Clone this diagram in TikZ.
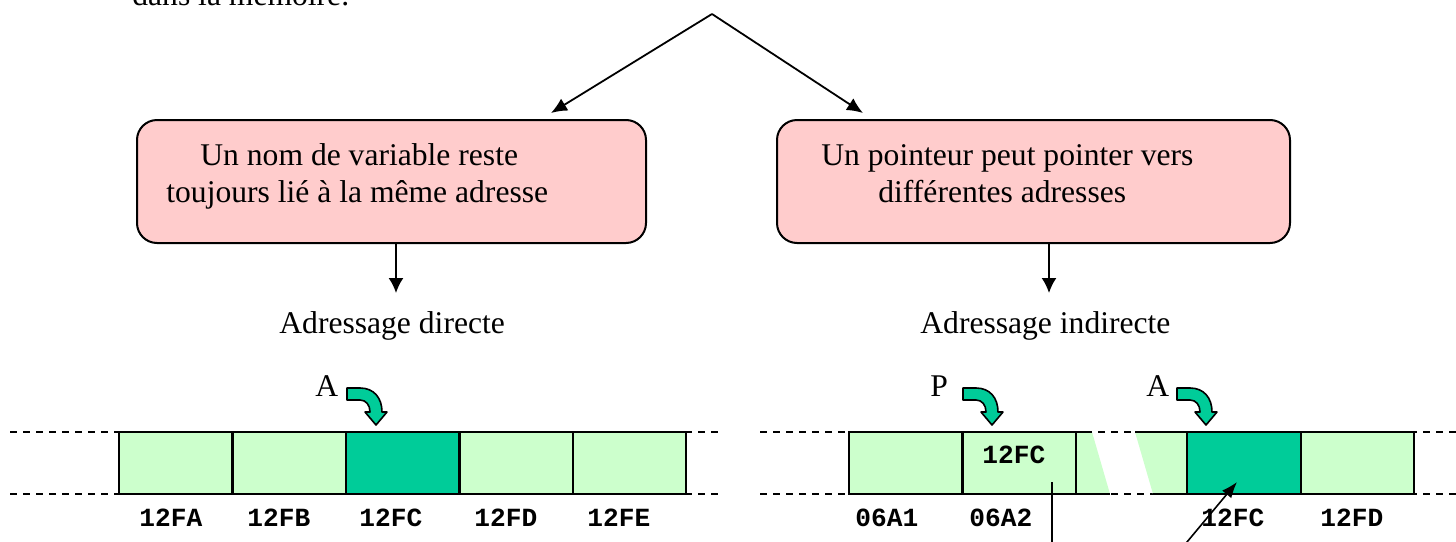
\documentclass[tikz,border=0pt]{standalone}
\usepackage{fontspec}
\setmainfont{Liberation Serif}
\newfontfamily\addrfont{Liberation Mono}
\usetikzlibrary{arrows.meta,calc}
\definecolor{pinkfill}{HTML}{FFCCCC}
\definecolor{lightgreen}{HTML}{CCFFCC}
\definecolor{seagreen}{HTML}{00CC99}
\newcommand\bentarrowat[1]{%
  \draw[bentarrow, shift={(#1)}] (-29,-37) -- (-16,-37)
    .. controls (-2,-37) and (6,-27) .. (6,-13) -- (11,-13) -- (0,0)
    -- (-11,-13) -- (-6,-13)
    .. controls (-6,-20) and (-10,-25) .. (-16,-25) -- (-29,-25) -- cycle;}
\begin{document}
\begin{tikzpicture}[x=0.5pt,y=-0.5pt,
  txt/.style={inner sep=0pt, anchor=base west, font=\fontsize{15.8}{16.5}\selectfont},
  addr/.style={inner sep=0pt, anchor=base west, font=\addrfont\bfseries\fontsize{13.1}{15}\selectfont},
  pbox/.style={draw, line width=1pt, fill=pinkfill, rounded corners=10pt, minimum height=61.5pt},
  conn/.style={line width=0.9pt, -{Latex[length=8pt,width=7pt]}},
  downarr/.style={line width=0.9pt, -{Latex[length=7.5pt,width=7.5pt]}},
  cellbox/.style={draw, line width=1pt, minimum width=56.7pt, minimum height=31pt, inner sep=0pt},
  dashline/.style={line width=1pt, dash pattern=on 3.5pt off 3pt},
  solidline/.style={line width=1pt},
  bentarrow/.style={draw, line width=0.8pt, fill=seagreen, line join=round},
  ptr/.style={line width=0.8pt},
  ptrarr/.style={line width=0.8pt, -{Latex[length=8pt,width=6pt]}}]
\useasboundingbox (0,0) rectangle (1456,541);

% top cut text
\node[txt] (toptext) at (132,5) {dans la mémoire.};

% top connectors
\coordinate (apex) at (712,14);
\coordinate (lt) at (551,113);
\coordinate (rt) at (863,113);
\draw[conn] (apex) -- (lt);
\draw[conn] (apex) -- (rt);

% boxes
\node[pbox, minimum width=254.5pt] (lbox) at (391.5,181.5) {};
\node[pbox, minimum width=256.5pt] (rbox) at (1033.5,181.5) {};
\node[txt] (l1) at (200,165) {Un nom de variable reste};
\node[txt] (l2) at (166,202) {toujours lié à la même adresse};
\node[txt] (r1) at (821,165) {Un pointeur peut pointer vers};
\node[txt] (r2) at (878,202) {différentes adresses};

% down arrows
\coordinate (ldt) at (396,293);
\coordinate (rdt) at (1049,293);
\draw[downarr] (lbox.south -| ldt) -- (ldt);
\draw[downarr] (rbox.south -| rdt) -- (rdt);
\node[txt] (ldir) at (279,333) {Adressage directe};
\node[txt] (rdir) at (920,333) {Adressage indirecte};

% ---------- left memory row ----------
\draw[dashline] (10,432) -- (119,432);
\draw[dashline] (10,494) -- (119,494);
\draw[dashline] (685,432) -- (720,432);
\draw[dashline] (685,494) -- (720,494);
\node[cellbox, fill=lightgreen] (c1) at (175.75,463) {};
\node[cellbox, fill=lightgreen] (c2) at (289.25,463) {};
\node[cellbox, fill=seagreen]   (c3) at (402.75,463) {};
\node[cellbox, fill=lightgreen] (c4) at (516.25,463) {};
\node[cellbox, fill=lightgreen] (c5) at (629.75,463) {};
\node[addr] (a1) at (139,526) {12FA};
\node[addr] (a2) at (247,526) {12FB};
\node[addr] (a3) at (359,526) {12FC};
\node[addr] (a4) at (474,526) {12FD};
\node[addr] (a5) at (587,526) {12FE};
\node[txt] (labA) at (315,396) {A};
\bentarrowat{376,425}

% ---------- right memory row ----------
\draw[dashline] (760,432) -- (1456,432);
\draw[dashline] (760,494) -- (1456,494);
\fill[lightgreen] (1076,432) -- (1092,432) -- (1110,494) -- (1076,494) -- cycle;
\fill[lightgreen] (1135,432) -- (1187,432) -- (1187,494) -- (1153,494) -- cycle;
\draw[solidline] (1076,432) -- (1092,432);
\draw[solidline] (1076,494) -- (1110,494);
\draw[solidline] (1135,432) -- (1187,432);
\draw[solidline] (1153,494) -- (1187,494);
\node[cellbox, fill=lightgreen] (d1) at (905.6,463) {};
\node[cellbox, fill=lightgreen] (d2) at (1019.25,463) {};
\node[cellbox, fill=seagreen]   (d3) at (1244,463) {};
\node[cellbox, fill=lightgreen] (d4) at (1357.5,463) {};
\node[addr] (inval) at (982,463) {12FC};
\node[addr] (b1) at (855,526) {06A1};
\node[addr] (b2) at (969,526) {06A2};
\node[addr] (b3) at (1201,526) {12FC};
\node[addr] (b4) at (1320,526) {12FD};
\node[txt] (labP) at (930,396) {P};
\node[txt] (labA2) at (1146,396) {A};
\bentarrowat{992,425}
\bentarrowat{1206,425}

% pointer lines
\coordinate (p0) at (1052,560);
\coordinate (p1) at (1052,482);
\draw[ptr] (p0) -- (p1);
\coordinate (q0) at (1172,560);
\coordinate (q1) at (1237,482);
\draw[ptrarr] (q0) -- (q1);
\end{tikzpicture}
\end{document}
